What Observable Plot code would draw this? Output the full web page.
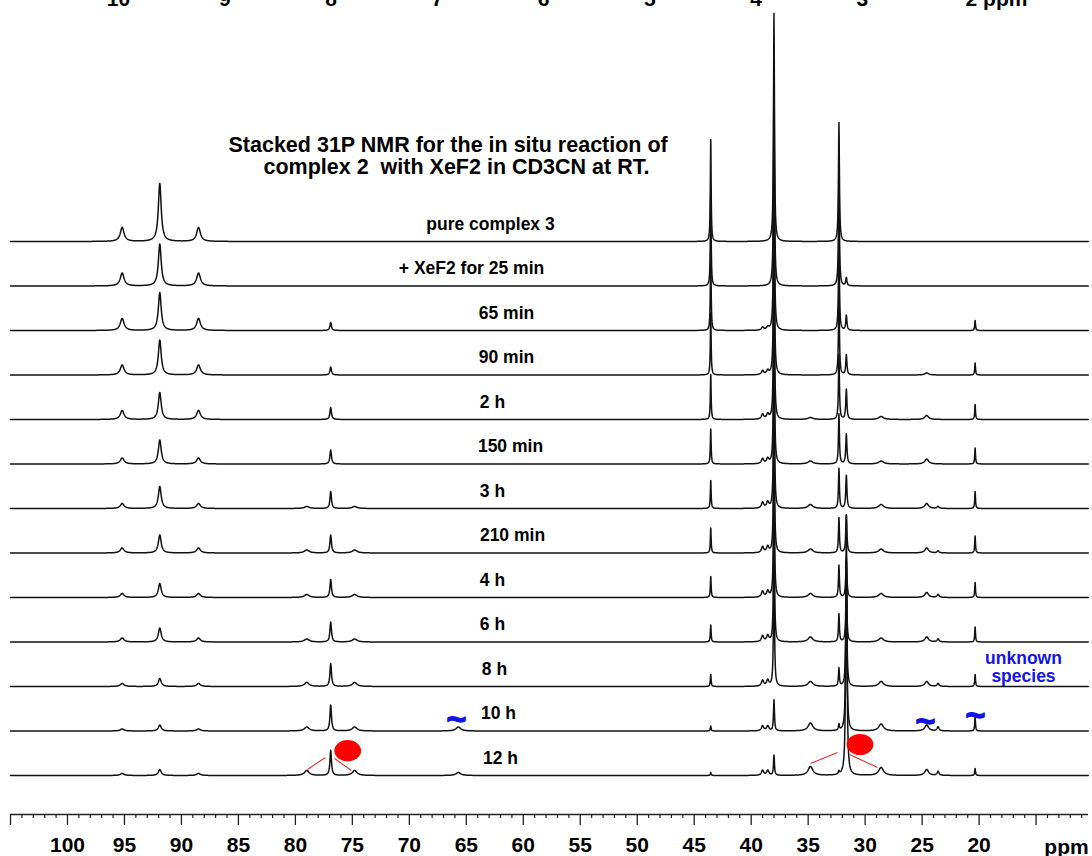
<!DOCTYPE html>
<html>
<head>
<meta charset="utf-8">
<script src="https://cdn.jsdelivr.net/npm/d3@7"></script>
<script src="https://cdn.jsdelivr.net/npm/@observablehq/plot@0.6"></script>
<style>
  html, body { margin: 0; padding: 0; background: #fff; }
  #chart svg { display: block; }
</style>
</head>
<body>
<div id="chart"></div>
<script>
// ---------------- data ----------------
const spectrumLabels = ["pure complex 3", "+ XeF2 for 25 min", "65 min", "90 min", "2 h", "150 min",
  "3 h", "210 min", "4 h", "6 h", "8 h", "10 h", "12 h"];

// peak positions (ppm) and half widths (ppm)
const peakShifts     = [95.2, 91.9, 88.5, 79.0, 76.9, 74.8, 65.7, 43.55, 39.0, 38.55, 38.0, 34.8, 32.3, 31.65, 28.6, 24.6, 23.6, 20.35];
const peakHalfWidths = [0.20, 0.15, 0.20, 0.25, 0.08, 0.25, 0.25, 0.04, 0.12, 0.12, 0.05, 0.25, 0.05, 0.06, 0.25, 0.20, 0.10, 0.04];

// peak heights per spectrum (top spectrum first), in the picture's intensity units
const h952  = [14, 13, 12, 10, 9, 6, 5, 5, 4, 4, 3, 2, 2];
const h919  = [58, 42, 38, 35, 27, 24, 22, 18, 14, 14, 8, 6, 6];
const h885  = [14, 13, 12, 10, 9, 6, 5, 5, 4, 4, 3, 2, 2];
const h790  = [0, 0, 0, 0, 0, 0, 2, 3, 3, 3, 4, 4, 5];
const h769  = [0, 0, 8, 8, 12, 14, 17, 18, 18, 20, 23, 26, 25];
const h748  = [0, 0, 0, 0, 0, 0, 2, 3, 3, 3, 4, 4, 5];
const h657  = [0, 0, 0, 0, 0, 0, 0, 0, 0, 0, 0, 4, 3];
const h4355 = [102, 95, 80, 62, 45, 35, 28, 25, 21, 17, 12, 5, 3];
const h390  = [0, 0, 3, 4, 5, 5, 6, 6, 6, 6, 6, 5, 5];
const h3855 = [0, 0, 3, 4, 5, 5, 6, 6, 6, 6, 6, 5, 5];
const h380  = [228, 220, 210, 200, 190, 180, 170, 160, 150, 140, 130, 31, 20];
const h348  = [0, 0, 0, 0, 2, 3, 4, 4, 4, 5, 5, 8, 9];
const h323  = [119, 110, 95, 80, 65, 50, 40, 35, 32, 28, 18, 6, 3];
const h3165 = [0, 8, 15, 20, 30, 30, 33, 38, 40, 55, 100, 170, 260];
const h286  = [0, 0, 0, 0, 3, 3, 4, 4, 4, 4, 5, 7, 8];
const h246  = [0, 0, 0, 2, 4, 5, 5, 5, 5, 5, 5, 6, 6];
const h236  = [0, 0, 0, 0, 0, 0, 2, 2, 3, 3, 3, 4, 4];
const h2035 = [0, 0, 10, 12, 15, 16, 17, 17, 15, 15, 12, 14, 7];

const peakHeights = [h952, h919, h885, h790, h769, h748, h657, h4355, h390, h3855, h380, h348, h323, h3165, h286, h246, h236, h2035];

const majorTicks = [105, 100, 95, 90, 85, 80, 75, 70, 65, 60, 55, 50, 45, 40, 35, 30, 25, 20, 15];
const tickLabels = [100, 95, 90, 85, 80, 75, 70, 65, 60, 55, 50, 45, 40, 35, 30, 25, 20];
const minorTicks = d3.range(11, 106).filter(d => d % 5 !== 0);
const topCutLabels = ["10", "9", "8", "7", "6", "5", "4", "3", "2 ppm"];

// ---------------- layout ----------------
const W = 1092, H = 856;
const mL = 10, mR = 4, mB = 42;
const xDom = [105, 10.4];
const axisY = H - mB;                         // pixel row of the ppm axis
const X = px => xDom[0] - (px - mL) * (xDom[0] - xDom[1]) / (W - mL - mR);
const Y = py => axisY - py;
const topBaseline = Y(241), stackStep = 44.5;
const baseOf = i => topBaseline - i * stackStep;

// sample grid for drawing the line shapes
const grid = Array.from(new Set([...d3.range(105, 10.4, -0.02).map(d => +d.toFixed(3)), ...peakShifts])).sort((a, b) => b - a);

const rows = [];
spectrumLabels.forEach((lab, i) => {
  const b = baseOf(i);
  for (const p of grid) {
    let v = 0;
    for (let k = 0; k < peakShifts.length; k++) {
      const h = peakHeights[k][i];
      if (!h) continue;
      const g = peakHalfWidths[k], d = p - peakShifts[k];
      v += h * g * g / (g * g + d * d);
    }
    rows.push({s: i, ppm: p, v: b + v});
  }
});

const labelCentersPx = [490, 471, 506, 506, 492, 510, 492, 512, 492, 492, 494, 498, 500];
const labelRows = spectrumLabels.map((t, i) => ({t, x: X(labelCentersPx[i]), y: baseOf(i) + 12}));

const font = "Liberation Sans, Arial, Helvetica, sans-serif";
const blue = "#1414e6";

const chart = Plot.plot({
  width: W, height: H,
  marginLeft: mL, marginRight: mR, marginTop: 0, marginBottom: mB,
  style: {fontFamily: font, background: "#fff"},
  x: {domain: xDom},
  y: {domain: [0, axisY], axis: null},
  marks: [
    Plot.line(rows, {x: "ppm", y: "v", z: "s", stroke: "#111", strokeWidth: 1.5}),
    // axis
    Plot.ruleY([0], {stroke: "#222", strokeWidth: 1.3}),
    Plot.axisX(minorTicks, {anchor: "bottom", tickSize: 4, tickFormat: () => "", stroke: "#222", strokeWidth: 1.2}),
    Plot.axisX(majorTicks, {anchor: "bottom", tickSize: 11, tickPadding: 12, stroke: "#222", strokeWidth: 1.3,
      tickFormat: d => tickLabels.includes(d) ? String(d) : "", fontSize: 21, fontWeight: "bold", fill: "#000"}),
    Plot.text(["ppm"], {x: X(1066), y: Y(853), text: d => d, fontSize: 21, fontWeight: "bold", lineAnchor: "bottom", fill: "#000"}),
    // cut-off axis labels at the very top
    Plot.text(topCutLabels, {x: (d, i) => X(118 + i * 106.25 + (i === 8 ? 28 : 0)), y: Y(5), text: d => d, fontSize: 21, fontWeight: "bold", lineAnchor: "bottom", fill: "#000"}),
    // title
    Plot.text(["Stacked 31P NMR for the in situ reaction of"], {x: X(228), y: Y(151), text: d => d, textAnchor: "start", lineAnchor: "bottom", fontSize: 21.5, fontWeight: "bold", fill: "#000"}),
    Plot.text(["complex 2\u00a0 with XeF2 in CD3CN at RT."], {x: X(263), y: Y(173), text: d => d, textAnchor: "start", lineAnchor: "bottom", fontSize: 21.5, fontWeight: "bold", fill: "#000"}),
    // spectrum labels
    Plot.text(labelRows, {x: "x", y: "y", text: "t", fontSize: 17.5, fontWeight: "bold", lineAnchor: "bottom", fill: "#000"}),
    // annotations
    Plot.text(["unknown", "species"], {x: X(1023), y: (d, i) => Y(663 + i * 18), text: d => d, fontSize: 17.5, fontWeight: "bold", lineAnchor: "bottom", fill: blue}),
    Plot.text(["~", "~", "~"], {x: (d, i) => X([456, 925, 975][i]), y: (d, i) => Y([719, 721, 715][i]), text: d => d, fontSize: 34, fontWeight: "bold", lineAnchor: "middle", fill: blue, stroke: blue, strokeWidth: 1.4}),
    Plot.link([[307, 769, 325, 757], [334, 758, 351, 770], [810, 763, 837, 752], [849, 754, 877, 767]],
      {x1: d => X(d[0]), y1: d => Y(d[1]), x2: d => X(d[2]), y2: d => Y(d[3]), stroke: "#e83030", strokeWidth: 1.1}),
    Plot.rect([[347.7, 750.7], [860, 744.5]], {x1: d => X(d[0] - 13.4), x2: d => X(d[0] + 13.4), y1: d => Y(d[1] + 10.6), y2: d => Y(d[1] - 10.6), rx: 13.4, ry: 10.6, fill: "#ff0000"})
  ]
});
document.getElementById("chart").appendChild(chart);
</script>
</body>
</html>
